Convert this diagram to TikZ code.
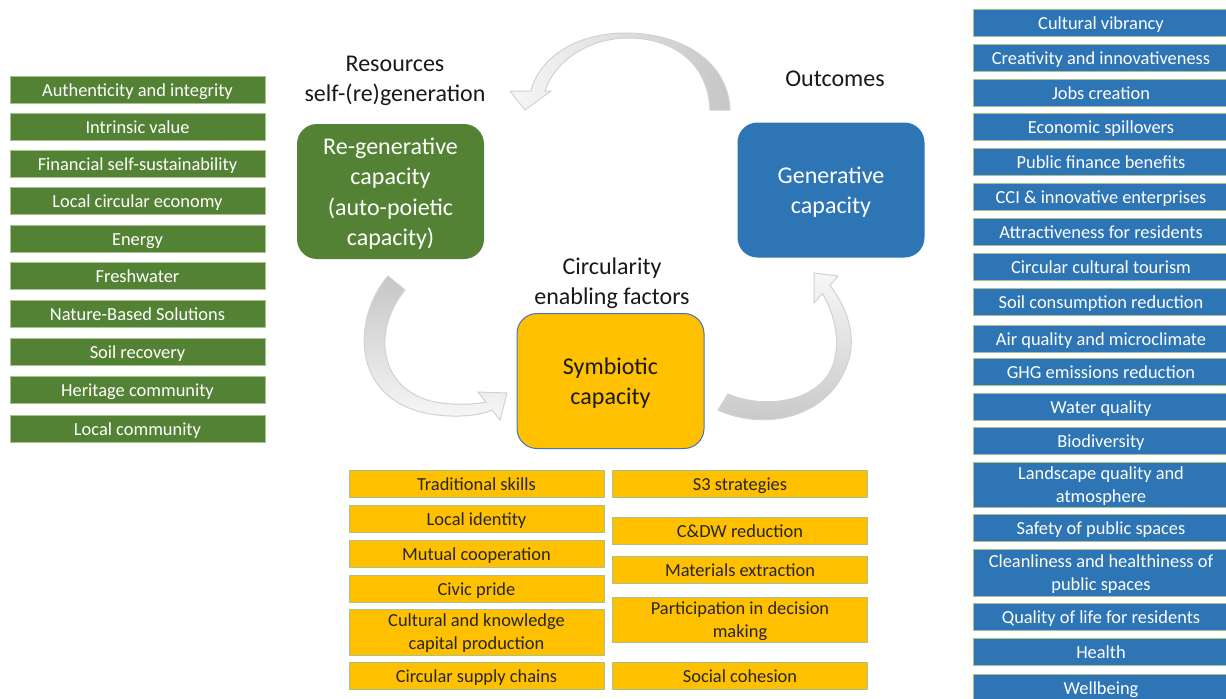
\documentclass[tikz,border=0pt]{standalone}
\usepackage{fontspec}
\setmainfont{Carlito}
\usetikzlibrary{positioning}

\definecolor{regreen}{HTML}{548235}
\definecolor{genblue}{HTML}{2E75B6}
\definecolor{symyellow}{HTML}{FFC000}
\definecolor{boxline}{HTML}{A9C08F}
\definecolor{symline}{HTML}{4472C4}

\newcommand{\listfont}{\fontsize{9.2}{11.5}\selectfont}
\newcommand{\capfont}{\fontsize{12}{15.2}\selectfont}

\begin{document}
\begin{tikzpicture}[x=0.5pt, y=-0.5pt,
    listbox/.style={draw=boxline, line width=0.5pt, minimum width=127.5pt, minimum height=13.5pt, inner sep=0pt, font=\listfont,
        text height=8.4pt, text depth=1.9pt},
    twoline/.style={align=center, text height={}, text depth=0pt},
    resitem/.style={listbox, fill=regreen, text=white},
    outitem/.style={listbox, fill=genblue, text=white},
    facitem/.style={listbox, fill=symyellow, text=black!85},
    capbox/.style={rounded corners=10pt, minimum width=93.5pt, minimum height=67.5pt, inner sep=0pt, align=center, font=\capfont,
        text depth=-3.5pt},
    headtext/.style={align=center, font=\capfont, text=black!90},
    bigarrow/.style={draw=gray!35, line width=0.5pt}]

            % Frame
            \useasboundingbox (0,0) rectangle (1226,698);
            \fill[white] (0,0) rectangle (1226,698);
            \clip (0,0) rectangle (1226,698);

            % Capacities
            \node[capbox, fill=regreen, text=white] (regen) at (390.5,191.5) {Re-generative\\capacity\\(auto-poietic\\capacity)};
            \node[capbox, fill=genblue, text=white] (gen) at (831,190) {Generative\\capacity};
            \node[capbox, fill=symyellow, draw=symline, line width=0.5pt, text=black!90] (sym) at (610.5,381) {Symbiotic\\capacity};

            % Headings
            \node[headtext] (reshead) at (395,81) {Resources\\self-(re)generation};
            \node[headtext] (outhead) at (835,79) {Outcomes};
            \node[headtext] (fachead) at (612,283) {Circularity\\enabling factors};

            % Cycle arrows
            \draw[bigarrow, left color=gray!6, right color=gray!45]
                (730,110) .. controls (728,60) and (680,33) .. (625,33)
                .. controls (580,33) and (540,55) .. (531,91)
                -- (510,91) -- (525,110) -- (551,91) -- (545,91)
                .. controls (555,60) and (590,38) .. (628,38)
                .. controls (672,38) and (708,62) .. (710,110) -- cycle;
            \draw[bigarrow, top color=gray!45, bottom color=gray!6]
                (388,276) .. controls (352,318) and (350,400) .. (430,414)
                .. controls (455,418) and (478,416) .. (492,410)
                -- (500,420) -- (507,393) -- (478,392) -- (486,402)
                .. controls (472,405) and (452,405) .. (435,402)
                .. controls (378,390) and (372,330) .. (405,290) -- cycle;
            \draw[bigarrow, bottom color=gray!45, top color=gray!6]
                (718,410) .. controls (765,432) and (835,418) .. (850,355)
                .. controls (855,330) and (845,305) .. (830,285.5)
                -- (838,276) -- (814,273) -- (814,303) -- (822.4,293.5)
                .. controls (835,315) and (840,340) .. (834,362)
                .. controls (822,402) and (765,410) .. (728,394) -- cycle;

            % Resources
            \node[resitem] (res1) at (137.5,90) {Authenticity and integrity};
            \node[resitem] (res2) at (137.5,127) {Intrinsic value};
            \node[resitem] (res3) at (137.5,164) {Financial self-sustainability};
            \node[resitem] (res4) at (137.5,201) {Local circular economy};
            \node[resitem] (res5) at (137.5,239) {Energy};
            \node[resitem] (res6) at (137.5,276) {Freshwater};
            \node[resitem] (res7) at (137.5,314) {Nature-Based Solutions};
            \node[resitem] (res8) at (137.5,352) {Soil recovery};
            \node[resitem] (res9) at (137.5,390) {Heritage community};
            \node[resitem] (res10) at (137.5,429) {Local community};

            % Outcomes
            \node[outitem] (out1) at (1101,22.5) {Cultural vibrancy};
            \node[outitem] (out2) at (1101,58) {Creativity and innovativeness};
            \node[outitem] (out3) at (1101,93) {Jobs creation};
            \node[outitem] (out4) at (1101,127) {Economic spillovers};
            \node[outitem] (out5) at (1101,162) {Public finance benefits};
            \node[outitem] (out6) at (1101,197) {CCI \& innovative enterprises};
            \node[outitem] (out7) at (1101,232) {Attractiveness for residents};
            \node[outitem] (out8) at (1101,267) {Circular cultural tourism};
            \node[outitem] (out9) at (1101,302) {Soil consumption reduction};
            \node[outitem] (out10) at (1101,339) {Air quality and microclimate};
            \node[outitem] (out11) at (1101,372) {GHG emissions reduction};
            \node[outitem] (out12) at (1101,407) {Water quality};
            \node[outitem] (out13) at (1101,441) {Biodiversity};
            \node[outitem, twoline, minimum height=22.5pt] (out14) at (1101,484.5) {Landscape quality and\\atmosphere};
            \node[outitem] (out15) at (1101,528) {Safety of public spaces};
            \node[outitem, twoline, minimum height=23.5pt] (out16) at (1101,572.5) {Cleanliness and healthiness of\\public spaces};
            \node[outitem] (out17) at (1101,617) {Quality of life for residents};
            \node[outitem] (out18) at (1101,652) {Health};
            \node[outitem] (out19) at (1101,687.5) {Wellbeing};

            % Enabling factors
            \node[facitem] (fac1) at (476.5,484) {Traditional skills};
            \node[facitem] (fac2) at (476.5,519) {Local identity};
            \node[facitem] (fac3) at (476.5,554) {Mutual cooperation};
            \node[facitem] (fac4) at (476.5,589) {Civic pride};
            \node[facitem, twoline, minimum height=23pt] (fac5) at (476.5,632) {Cultural and knowledge\\capital production};
            \node[facitem] (fac6) at (476.5,675.5) {Circular supply chains};
            \node[facitem] (fac7) at (740,484) {S3 strategies};
            \node[facitem] (fac8) at (740,531) {C\&DW reduction};
            \node[facitem] (fac9) at (740,569.5) {Materials extraction};
            \node[facitem, twoline, minimum height=22.5pt] (fac10) at (740,619.5) {Participation in decision\\making};
            \node[facitem] (fac11) at (740,675.5) {Social cohesion};

        \end{tikzpicture}
\end{document}
